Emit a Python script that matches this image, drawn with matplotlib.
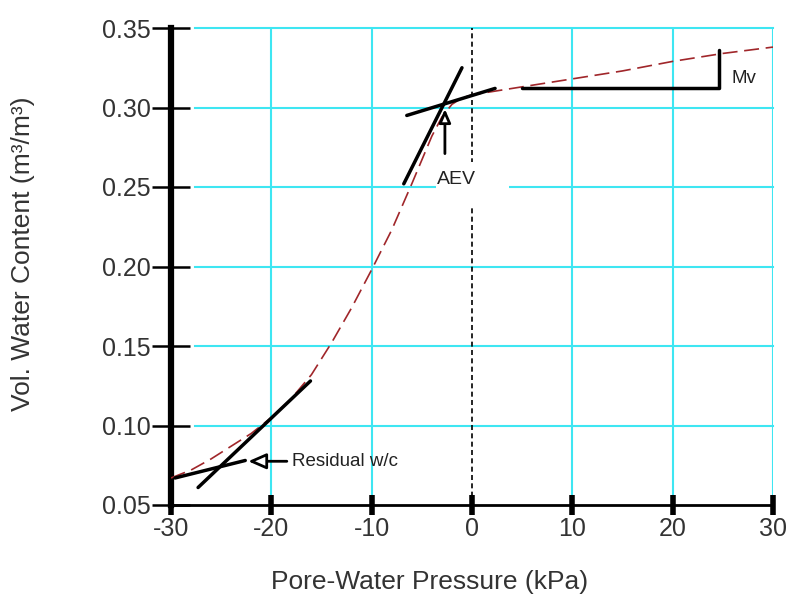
import numpy as np
import matplotlib.pyplot as plt
from matplotlib.patches import Rectangle

plt.rcParams['font.family'] = ['Liberation Sans', 'DejaVu Sans']

# Curva caracteristica (SWCC)
pwp = [-30, -28, -26, -24, -22, -20, -18, -16, -14, -12, -10, -8, -6, -5, -4, -3,
       -2, -1, 0, 2, 5, 10, 15, 20, 25, 30]
vwc = [0.067, 0.072, 0.079, 0.087, 0.095, 0.105, 0.117, 0.132, 0.152, 0.174, 0.198,
       0.223, 0.252, 0.267, 0.282, 0.294, 0.302, 0.306, 0.308, 0.310, 0.313, 0.318,
       0.323, 0.329, 0.334, 0.338]

# Tangentes
aev_steep_x, aev_steep_y = [-6.8, -1.0], [0.252, 0.325]
aev_flat_x, aev_flat_y = [-6.5, 2.3], [0.295, 0.312]
res_steep_x, res_steep_y = [-27.3, -16.1], [0.061, 0.128]
res_flat_x, res_flat_y = [-29.6, -22.6], [0.067, 0.078]
mv_x, mv_y = [5.0, 24.6, 24.6], [0.312, 0.312, 0.336]

x_ticks = [-30, -20, -10, 0, 10, 20, 30]
y_ticks = [0.05, 0.10, 0.15, 0.20, 0.25, 0.30, 0.35]

fig = plt.figure(figsize=(7.89, 5.94), dpi=100)
ax = fig.add_axes([171/789, 1 - 505/594, (773 - 171)/789, (505 - 28)/594])

cyan = '#3ee6f2'
for yv in y_ticks[1:]:
    ax.plot([-27.6, 30], [yv, yv], color=cyan, lw=1.5, zorder=1, clip_on=False)
for xv in x_ticks:
    if xv == -30:
        continue
    if xv == 0:
        ax.plot([0, 0], [0.05, 0.35], color='black', lw=1.2, ls=(0, (3, 2)), zorder=2)
    else:
        ax.plot([xv, xv], [0.05, 0.35], color=cyan, lw=1.5, zorder=1)

ax.plot(pwp, vwc, color='#a0262a', lw=1.2, ls=(0, (9, 4)), zorder=3)

for lx, ly in [(aev_steep_x, aev_steep_y), (aev_flat_x, aev_flat_y),
               (res_steep_x, res_steep_y), (res_flat_x, res_flat_y), (mv_x, mv_y)]:
    ax.plot(lx, ly, color='black', lw=2.5, solid_capstyle='round', zorder=4)

# AEV
ax.add_patch(Rectangle((-3.6, 0.2387), 7.3, 0.027, facecolor='white',
                       edgecolor='none', zorder=5))
ax.annotate('', xy=(-2.7, 0.299), xytext=(-2.7, 0.271),
            arrowprops=dict(arrowstyle='-|>,head_length=0.8,head_width=0.35',
                            fc='white', ec='black', lw=2, shrinkA=0, shrinkB=0),
            zorder=6)
ax.text(-1.5, 0.255, 'AEV', fontsize=14, ha='center', va='center', color='#222222', zorder=6)

# Residual
ax.annotate('Residual w/c', xy=(-22.3, 0.0775), xytext=(-17.9, 0.0775),
            fontsize=13.5, va='center', color='#222222',
            arrowprops=dict(arrowstyle='-|>,head_length=0.8,head_width=0.35',
                            fc='white', ec='black', lw=2, shrinkA=2, shrinkB=0),
            zorder=6)

ax.text(25.9, 0.3185, 'Mv', fontsize=13.5, ha='left', va='center', color='#222222')

ax.set_xlim(-30, 30)
ax.set_ylim(0.05, 0.35)
ax.set_xticks(x_ticks)
ax.set_xticklabels([str(v) for v in x_ticks])
ax.set_yticks(y_ticks)
ax.set_yticklabels(['%.2f' % v for v in y_ticks])
ax.tick_params(axis='x', direction='inout', length=14, width=4, pad=2,
               labelsize=18, labelcolor='#333333')
ax.tick_params(axis='y', direction='inout', length=27, width=1.8, pad=1,
               labelsize=18, labelcolor='#333333')
for s in ['top', 'right']:
    ax.spines[s].set_visible(False)
ax.spines['left'].set_linewidth(4.5)
ax.spines['bottom'].set_linewidth(2)

fig.text(430/789, 1 - 582/594, 'Pore-Water Pressure (kPa)', fontsize=19,
         ha='center', va='center', color='#333333')
fig.text(23/789, 1 - 254/594, 'Vol. Water Content (m³/m³)', fontsize=19,
         ha='center', va='center', rotation=90, color='#333333')

fig.savefig('out.png', dpi=100)
